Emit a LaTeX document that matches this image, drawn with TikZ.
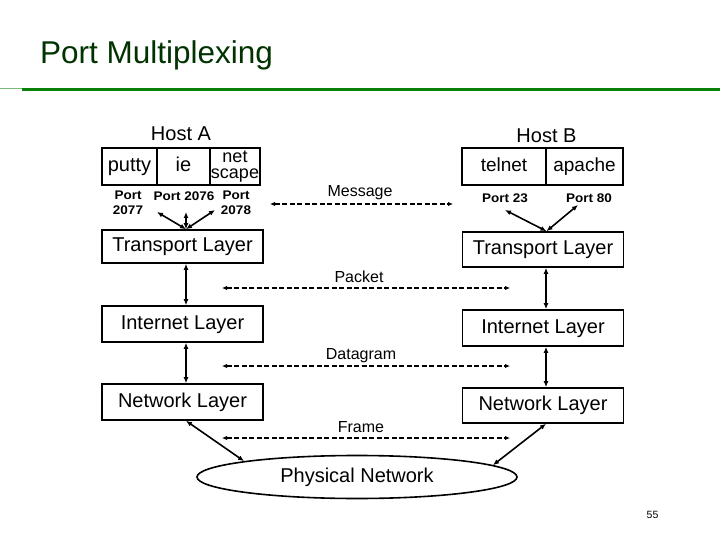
\documentclass[tikz,border=0pt]{standalone}
\usepackage{fontspec}
\setmainfont{Liberation Sans}
\usepackage{graphicx}
\usetikzlibrary{arrows.meta,shapes.geometric}
\definecolor{titlegreen}{RGB}{0,51,0}
\definecolor{linegreen}{RGB}{10,130,10}
\newcommand{\myfs}[1]{\fontsize{#1}{#1}\selectfont}
\newcommand{\pl}[1]{\scalebox{1.08}[1]{#1}}
\begin{document}
\begin{tikzpicture}[x=1pt,y=-1pt,
  box/.style={draw,line width=1.6pt,inner sep=0pt,minimum width=161pt,font=\myfs{20},text height=14.5pt,text depth=4pt},
  cell/.style={draw,line width=1.6pt,inner sep=0pt,minimum height=37pt,font=\myfs{20},text height=14.5pt,text depth=4pt},
  portlbl/.style={inner sep=0pt,align=center,font=\myfs{12.5}\bfseries,execute at begin node=\setlength{\baselineskip}{15pt}},
  msg/.style={inner sep=0pt,font=\myfs{16}},
  dashar/.style={line width=1.4pt,dash pattern=on 5pt off 2.5pt,{Latex[length=5pt,width=4.5pt]}-{Latex[length=5pt,width=4.5pt]}},
  solidar/.style={line width=1.6pt,{Latex[length=6pt,width=5pt]}-{Latex[length=6pt,width=5pt]}}
]
\fill[white] (0,0) rectangle (720,540);
\path[use as bounding box] (0,0) rectangle (720,540);

% title
\node[anchor=base west,inner sep=0pt,text=titlegreen,font=\myfs{31.5}] (title) at (40,63.3) {Port Multiplexing};
\draw[linegreen!55,line width=1pt] (0,88.6) -- (22,88.6);
\draw[linegreen,line width=3pt] (22,90) -- (720,90);

% Host A
\node[inner sep=0pt,font=\myfs{20}] (hostA) at (181,134) {Host A};
\node[cell,minimum width=55pt] (putty) at (129.5,166.5) {putty};
\node[cell,minimum width=53pt] (ie) at (183.5,166.5) {ie};
\node[draw,line width=1.6pt,inner sep=0pt,minimum height=37pt,minimum width=50pt,align=center,font=\myfs{18},execute at begin node=\setlength{\baselineskip}{16.5pt}] (netscape) at (235,166.5) {net\\scape};
\node[portlbl] (p2077) at (128,203) {\pl{Port}\\\pl{2077}};
\node[portlbl] (p2076) at (184,196) {\pl{Port 2076}};
\node[portlbl] (p2078) at (236,203) {\pl{Port}\\\pl{2078}};

% Host B
\node[inner sep=0pt,font=\myfs{20}] (hostB) at (546.5,136) {Host B};
\node[cell,minimum width=84pt,font=\myfs{19}] (telnet) at (504,166.5) {telnet};
\node[cell,minimum width=77pt,font=\myfs{19}] (apache) at (584.5,166.5) {apache};
\node[portlbl] (p23) at (505,198) {\pl{Port 23}};
\node[portlbl] (p80) at (589,198) {\pl{Port 80}};

% layers A
\node[box,minimum height=33pt] (tA) at (182.5,246.5) {Transport Layer};
\node[box,minimum height=36pt] (iA) at (182.5,324) {Internet Layer};
\node[box,minimum height=36pt] (nA) at (182.5,402) {Network Layer};
% layers B
\node[box,minimum height=35pt] (tB) at (543,249.5) {Transport Layer};
\node[box,minimum height=36pt] (iB) at (543,328) {Internet Layer};
\node[box,minimum height=35pt] (nB) at (543,405.5) {Network Layer};

% physical network
\node[ellipse,draw,line width=1.6pt,inner sep=0pt,minimum width=320pt,minimum height=43pt,font=\myfs{20}] (phys) at (357,477) {Physical Network};

% port arrows A
\coordinate (a1) at (157,212);
\coordinate (a2) at (186,212);
\coordinate (a3) at (215,210);
\draw[solidar] (a1) -- ([xshift=3.5pt]tA.north);
\draw[solidar] (a2) -- ([xshift=3.5pt]tA.north);
\draw[solidar] (a3) -- ([xshift=3.5pt]tA.north);
% port arrows B
\coordinate (b1) at (505,210);
\coordinate (b2) at (578,205);
\draw[solidar] (b1) -- ([xshift=3.5pt]tB.north);
\draw[solidar] (b2) -- ([xshift=3.5pt]tB.north);

% vertical arrows
\draw[solidar] ([xshift=3.5pt]tA.south) -- ([xshift=3.5pt]iA.north);
\draw[solidar] ([xshift=3.5pt]iA.south) -- ([xshift=3.5pt]nA.north);
\draw[solidar] ([xshift=3pt]tB.south) -- ([xshift=3pt]iB.north);
\draw[solidar] ([xshift=3pt]iB.south) -- ([xshift=3pt]nB.north);
\draw[solidar] ([xshift=3.5pt]nA.south) -- (phys.172.8);
\draw[solidar] ([xshift=3pt]nB.south) -- (phys.5);

% peer messages
\coordinate (m1) at (270,204);
\coordinate (m2) at (453,204);
\draw[dashar] (m1) -- (m2);
\node[msg] (lmsg) at (360,193) {Message};

\coordinate (k1) at (222,288);
\coordinate (k2) at (510,288);
\draw[dashar] (k1) -- (k2);
\node[msg] (lpkt) at (359,277) {Packet};

\coordinate (d1) at (222,366);
\coordinate (d2) at (510,366);
\draw[dashar] (d1) -- (d2);
\node[msg] (ldg) at (361,356) {Datagram};

\coordinate (f1) at (222,438);
\coordinate (f2) at (510,438);
\draw[dashar] (f1) -- (f2);
\node[msg] (lfr) at (361,427) {Frame};

% page number
\node[inner sep=0pt,font=\myfs{10.5}] (page) at (652.5,515) {55};
\end{tikzpicture}
\end{document}
